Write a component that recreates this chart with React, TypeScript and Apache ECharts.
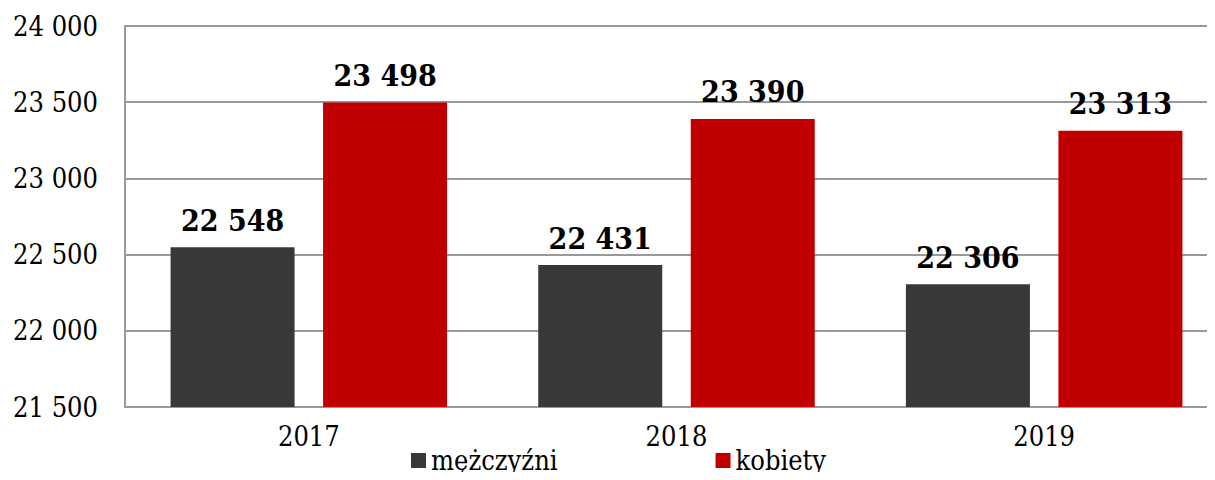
import React, { useEffect, useRef } from "react";
import * as echarts from "echarts";

const categories = ["2017", "2018", "2019"];
const men = [22548, 22431, 22306];
const women = [23498, 23390, 23313];
const seriesNames = ["mężczyźni", "kobiety"];

const fmt = (v: number) => {
  const s = String(Math.round(v));
  return s.replace(/\B(?=(\d{3})+(?!\d))/g, " ");
};

const FONT = "'DejaVu Serif Condensed', 'DejaVu Serif', serif";

export default function App() {
  const ref = useRef<HTMLDivElement>(null);
  useEffect(() => {
    if (!ref.current) return;
    const chart = echarts.init(ref.current, null, { renderer: "svg" });
    const labelStyle = {
      show: true,
      position: "top" as const,
      distance: 12,
      fontFamily: FONT,
      fontWeight: "bold" as const,
      fontSize: 30,
      color: "#000",
      formatter: (p: any) => fmt(p.value),
    };
    chart.setOption({
      animation: false,
      grid: {
        left: 125,
        width: 1103,
        top: 26,
        bottom: 73,
        containLabel: false,
        outerBoundsMode: "none",
      },
      legend: {
        bottom: 1,
        left: 406,
        itemWidth: 15,
        itemHeight: 15,
        itemGap: 158,
        itemTextGap: 5,
        icon: "rect",
        textStyle: { fontFamily: FONT, fontSize: 27, color: "#000" },
        data: seriesNames,
      },
      xAxis: {
        type: "category",
        data: categories,
        axisLine: { lineStyle: { color: "#999", width: 2 } },
        axisTick: { show: false },
        axisLabel: { fontFamily: FONT, fontSize: 27, color: "#000", margin: 16 },
      },
      yAxis: {
        type: "value",
        min: 21500,
        max: 24000,
        interval: 500,
        axisLine: { show: true, lineStyle: { color: "#999", width: 2 } },
        axisTick: { show: false },
        splitLine: { lineStyle: { color: "#999", width: 2 } },
        axisLabel: {
          fontFamily: FONT,
          fontSize: 27,
          color: "#000",
          margin: 27,
          formatter: (v: number) => fmt(v),
        },
      },
      series: [
        {
          name: seriesNames[0],
          type: "bar",
          data: men,
          barWidth: 124,
          barGap: "23%",
          itemStyle: { color: "#383838" },
          label: labelStyle,
        },
        {
          name: seriesNames[1],
          type: "bar",
          data: women,
          barWidth: 124,
          itemStyle: { color: "#C00000" },
          label: labelStyle,
        },
      ],
    });
    return () => chart.dispose();
  }, []);
  return <div ref={ref} style={{ width: 1215, height: 480, margin: -8 }} />;
}
